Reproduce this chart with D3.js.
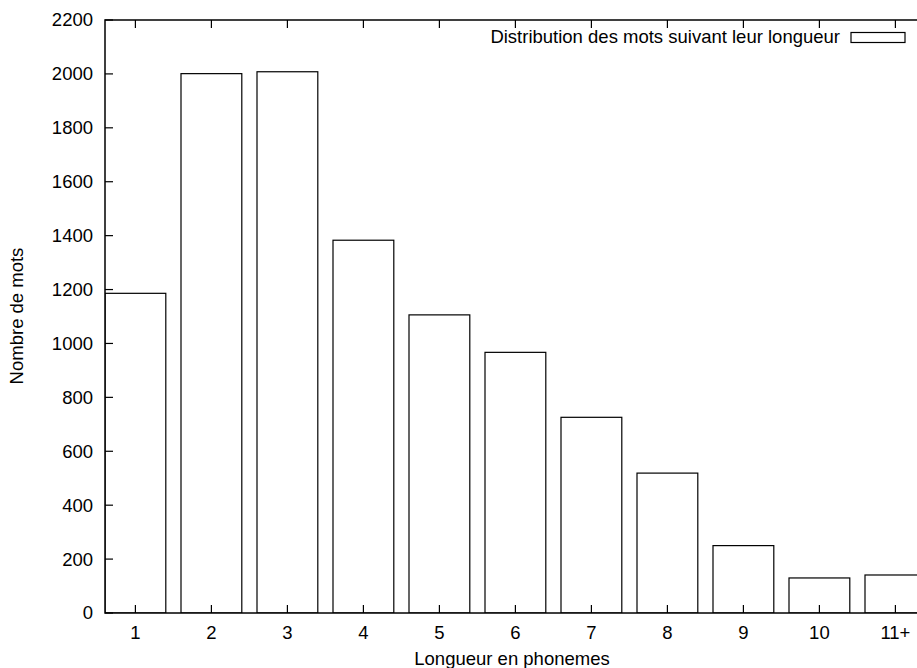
<!DOCTYPE html>
<html><head><meta charset="utf-8">
<script src="https://cdn.jsdelivr.net/npm/d3@7"></script>
<style>body{margin:0;background:#fff}svg{display:block}text{font-family:"Liberation Sans",Arial,sans-serif;fill:#000}</style>
</head><body>
<svg id="c" width="917" height="668"></svg>
<script>
const categories = ["1","2","3","4","5","6","7","8","9","10","11+"];
const values = [1186, 2001, 2008, 1383, 1106, 967, 726, 519, 250, 130, 141];
const yTicks = [0,200,400,600,800,1000,1200,1400,1600,1800,2000,2200];
const legendLabel = "Distribution des mots suivant leur longueur";
const xTitle = "Longueur en phonemes";
const yTitle = "Nombre de mots";

const svg = d3.select("#c");
const L = 105, T = 20, B = 613;
const x = d3.scaleLinear().domain([0.6, 11.4]).range([L, L + 10.8 * 76]);
const y = d3.scaleLinear().domain([0, 2200]).range([B, T]);
const R = x(11.4);
const fs = 18.5;

svg.append("defs").append("clipPath").attr("id","pc")
  .append("rect").attr("x", L).attr("y", T).attr("width", R - L).attr("height", B - T);

// bars
svg.append("g").attr("clip-path","url(#pc)").selectAll("rect").data(values).join("rect")
  .attr("x", (d,i) => x(i + 1 - 0.4))
  .attr("width", x(1.8) - x(1))
  .attr("y", d => y(d))
  .attr("height", d => y(0) - y(d))
  .attr("fill", "none").attr("stroke", "#000").attr("stroke-width", 1.2);

// frame
svg.append("path").attr("d", `M${R},${T}H${L}V${B}H${R}`).attr("fill","none").attr("stroke","#000").attr("stroke-width",1.5);
svg.append("line").attr("x1",R).attr("x2",R).attr("y1",T).attr("y2",B).attr("stroke","#000").attr("stroke-width",1.5);

// y ticks
const yg = svg.append("g");
yTicks.forEach(t => {
  yg.append("line").attr("x1", L).attr("x2", L + 8).attr("y1", y(t)).attr("y2", y(t)).attr("stroke","#000").attr("stroke-width",1.2);
  yg.append("line").attr("x1", R).attr("x2", R - 8).attr("y1", y(t)).attr("y2", y(t)).attr("stroke","#000").attr("stroke-width",1.2);
  yg.append("text").attr("x", L - 12).attr("y", y(t)).attr("dy","0.35em").attr("text-anchor","end").attr("font-size", fs).text(t);
});
// x ticks
const xg = svg.append("g");
categories.forEach((c,i) => {
  const px = x(i + 1);
  xg.append("line").attr("x1", px).attr("x2", px).attr("y1", B).attr("y2", B - 8).attr("stroke","#000").attr("stroke-width",1.2);
  xg.append("line").attr("x1", px).attr("x2", px).attr("y1", T).attr("y2", T + 8).attr("stroke","#000").attr("stroke-width",1.2);
  xg.append("text").attr("x", px).attr("y", 633).attr("dy","0.35em").attr("text-anchor","middle").attr("font-size", fs).text(c);
});

// axis titles
svg.append("text").attr("x", 512).attr("y", 659).attr("dy","0.35em").attr("text-anchor","middle").attr("font-size", fs).text(xTitle);
svg.append("text").attr("transform","translate(17,316) rotate(-90)").attr("dy","0.35em").attr("text-anchor","middle").attr("font-size", fs).text(yTitle);

// legend
svg.append("text").attr("x", 840).attr("y", 37).attr("dy","0.35em").attr("text-anchor","end").attr("font-size", fs).text(legendLabel);
svg.append("rect").attr("x", 851).attr("y", 32.5).attr("width", 54).attr("height", 10).attr("fill","none").attr("stroke","#000").attr("stroke-width",1.2);
</script>
</body></html>
